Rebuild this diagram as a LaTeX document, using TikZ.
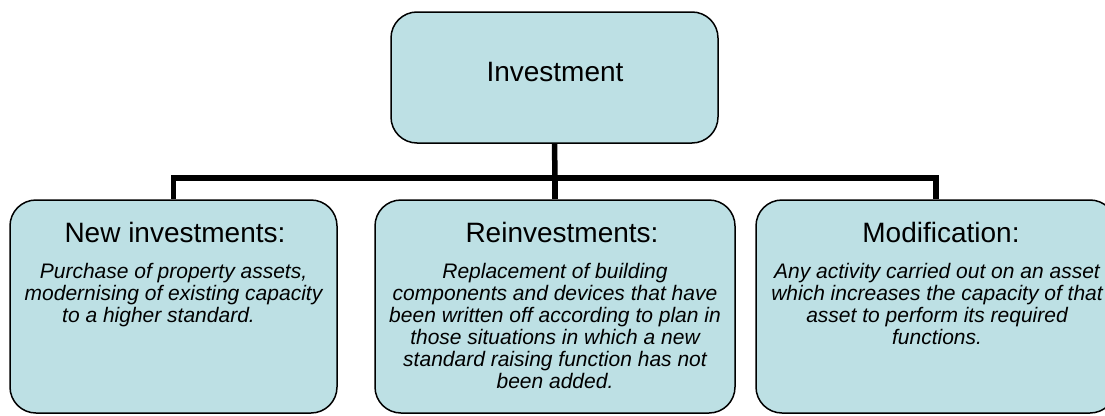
\documentclass[tikz,border=0pt]{standalone}
\usepackage{fontspec}
\setmainfont{Liberation Sans}
\definecolor{boxfill}{RGB}{189,224,228}
\begin{document}
\begin{tikzpicture}[x=1pt,y=-1pt,
  box/.style={draw=black, line width=1.5pt, fill=boxfill, rounded corners=26pt, inner sep=0pt},
  titletext/.style={font=\fontsize{28}{32}\selectfont, inner sep=0pt, anchor=base},
  bodytext/.style={font=\fontsize{21}{22}\selectfont\itshape, align=center, inner sep=0pt, anchor=north},
  link/.style={line width=5.5pt, line join=miter}]
\useasboundingbox (0,0) rectangle (1105,415);
% boxes
\node[box, minimum width=327pt, minimum height=131pt] (inv) at (554.5,77.5) {};
\node[box, minimum width=327pt, minimum height=213pt] (nb) at (173.5,306.5) {};
\node[box, minimum width=360pt, minimum height=213pt] (re) at (555,306.5) {};
\node[box, minimum width=360pt, minimum height=213pt] (mod) at (936,306.5) {};
% connectors
\coordinate (j) at (555,178);
\draw[link] (inv.south) -- (j);
\draw[link] (j) -| (nb.north);
\draw[link] (j) -| (mod.north);
\draw[link] (j) -- (re.north);
% texts
\node[titletext] (invt) at (555,81) {Investment};
\node[titletext] (nbt) at (175,242) {New investments:};
\node[titletext] (ret) at (562,242) {Reinvestments:};
\node[titletext] (modt) at (941,242) {Modification:};
\node[bodytext] (nbb) at (173.5,263) {Purchase of property assets,\\ modernising of existing capacity\\ to a higher standard.\hspace*{30pt}};
\node[bodytext] (reb) at (555,263) {Replacement of building\\ components and devices that have\\ been written off according to plan in\\ those situations in which a new\\ standard raising function has not\\ been added.};
\node[bodytext] (modb) at (937,263) {Any activity carried out on an asset\\ which increases the capacity of that\\ asset to perform its required\\ functions.};
\end{tikzpicture}
\end{document}
